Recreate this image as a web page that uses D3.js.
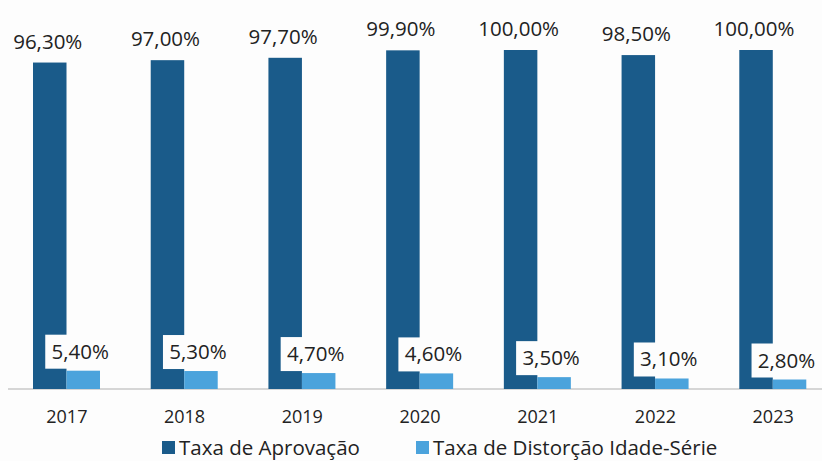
<!DOCTYPE html>
<html>
<head>
<meta charset="utf-8">
<script src="https://cdn.jsdelivr.net/npm/d3@7"></script>
<style>
  body { margin: 0; background: #fdfdfd; }
  text { font-family: "Open Sans", sans-serif; fill: #222; }
</style>
</head>
<body>
<div id="canvas"></div>
<script>
const years = ["2017", "2018", "2019", "2020", "2021", "2022", "2023"];
const aprovacao = [96.3, 97.0, 97.7, 99.9, 100.0, 98.5, 100.0];
const distorcao = [5.4, 5.3, 4.7, 4.6, 3.5, 3.1, 2.8];
const seriesNames = ["Taxa de Aprovação", "Taxa de Distorção Idade-Série"];
const colors = ["#1a5b8a", "#4ba3dc"];

const width = 822;
const height = 461;
const fmt = (v) => v.toFixed(2).replace(".", ",") + "%";

const svg = d3.select("#canvas").append("svg")
  .attr("width", width)
  .attr("height", height);

svg.append("rect").attr("width", width).attr("height", height).attr("fill", "#fdfdfd");

const x = d3.scaleBand().domain(years).range([8, 832]).paddingInner(0).paddingOuter(0);
const sub = d3.scaleBand().domain([0, 1]).range([25, 25 + 67]);
const y = d3.scaleLinear().domain([0, 100]).range([389, 50]);

// baseline
svg.append("line")
  .attr("x1", 8).attr("x2", width)
  .attr("y1", y(0)).attr("y2", y(0))
  .attr("stroke", "#c9c9c9").attr("stroke-width", 1.5);

const g = svg.selectAll(".year").data(years).enter().append("g")
  .attr("transform", (d) => `translate(${x(d)},0)`);

g.append("rect")
  .attr("x", sub(0))
  .attr("y", (d, i) => y(aprovacao[i]))
  .attr("width", sub.bandwidth())
  .attr("height", (d, i) => y(0) - y(aprovacao[i]))
  .attr("fill", colors[0]);

g.append("rect")
  .attr("x", sub(1))
  .attr("y", (d, i) => y(distorcao[i]))
  .attr("width", sub.bandwidth())
  .attr("height", (d, i) => y(0) - y(distorcao[i]))
  .attr("fill", colors[1]);

// value labels of approval bars
g.append("text")
  .attr("x", sub(0) + sub.bandwidth() / 2 - 2)
  .attr("y", (d, i) => y(aprovacao[i]) - 14)
  .attr("text-anchor", "middle")
  .style("font-size", "20.5px")
  .text((d, i) => fmt(aprovacao[i]));

// value labels of distortion bars (white box)
const lx = sub(1) + sub.bandwidth() / 2 - 3;
g.append("rect")
  .attr("x", lx - 35)
  .attr("y", (d, i) => y(distorcao[i]) - 36)
  .attr("width", 70)
  .attr("height", 34)
  .attr("fill", "#fdfdfd");

g.append("text")
  .attr("x", lx)
  .attr("y", (d, i) => y(distorcao[i]) - 12)
  .attr("text-anchor", "middle")
  .style("font-size", "20.5px")
  .text((d, i) => fmt(distorcao[i]));

// year axis
const axis = svg.append("g")
  .attr("transform", `translate(0,${y(0)})`)
  .call(d3.axisBottom(x).tickSize(0).tickPadding(21));
axis.select(".domain").remove();
axis.selectAll("text").style("font-size", "18px").style("font-family", "Open Sans, sans-serif").attr("fill", "#222");

// legend
const legendX = [162, 416];
const leg = svg.selectAll(".legend").data(seriesNames).enter().append("g")
  .attr("transform", (d, i) => `translate(${legendX[i]},0)`);
leg.append("rect")
  .attr("x", 0).attr("y", 441).attr("width", 13).attr("height", 13)
  .attr("fill", (d, i) => colors[i]);
leg.append("text")
  .attr("x", 17).attr("y", 455)
  .style("font-size", "20.5px")
  .text((d) => d);
</script>
</body>
</html>
